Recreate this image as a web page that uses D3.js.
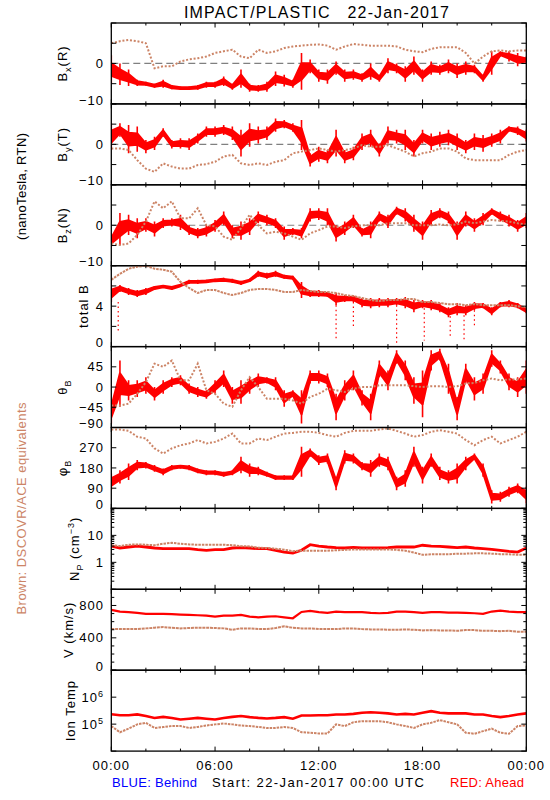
<!DOCTYPE html>
<html><head><meta charset="utf-8">
<script src="https://cdn.jsdelivr.net/npm/d3@7"></script>
<style>
body{margin:0;background:#fff}
svg{display:block}
text{font-family:"Liberation Sans",Arial,sans-serif;font-size:13px;letter-spacing:1px;fill:#000}
</style></head><body>
<svg id="c" width="550" height="800"></svg>
<script>
// ---------- data (30-minute steps) ----------
const hours=[0,0.5,1,1.5,2,2.5,3,3.5,4,4.5,5,5.5,6,6.5,7,7.5,8,8.5,9,9.5,10,10.5,11,11.5,12,12.5,13,13.5,14,14.5,15,15.5,16,16.5,17,17.5,18,18.5,19,19.5,20,20.5,21,21.5,22,22.5,23,23.5,24];
const hourTicks=[0,2,4,6,8,10,12,14,16,18,20,22,24];
const hourLabels=["00:00","06:00","12:00","18:00","00:00"];

// Bx (nT)
const bxRedHi=[2,0,-1.5,-4,-4.5,-5,-4,-5.3,-5.7,-5.7,-5.3,-4.5,-4.5,-3.2,-5,-1.5,-5,-5.3,-4.5,-2,-2.8,-4,2.6,1,-1.5,-1.5,0.5,-1.5,-1.5,-2.4,0,-2.8,1.3,0,-0.7,1.7,-1.5,0.5,-0.3,1,0,0.5,-0.3,-2.8,3,3,3,2.6,1.7];
const bxRedLo=[-5,-5.3,-5.6,-5.6,-5.5,-6,-6,-6.4,-6.5,-6.5,-6.5,-6,-6,-5.6,-6.5,-6,-7,-7,-7,-5.6,-5.7,-6,-6.5,-2.4,-4.5,-5,-2.8,-4.5,-4,-4.5,-4,-4.5,-2.4,-2.4,-4.5,-2.8,-4.5,-2.8,-2.8,-2.4,-3.6,-2.8,-2.4,-4.5,-2.8,1.7,0.5,-0.7,0];
const bxBrown=[5,5.5,5.8,5.5,5,-1.2,-0.7,-0.7,0.5,1,1.3,1.7,2.6,3,3.4,1.7,1.3,3.4,2.6,3,3.8,4.2,4.4,4.6,4.7,4.4,3.4,4.2,4.8,4.6,4.4,4.4,4.4,4.2,3.4,3,2.8,3.6,4,4,4,2.6,0,1.7,3,3.2,3,3.2,3.2];
// By (nT)
const byRedHi=[5.2,5.2,4.8,4.4,1.1,1.9,4,1.1,1.5,1.5,2.7,4.4,4.4,4.8,4.4,3.6,5.2,4.4,4.4,6.4,6,5.2,6,-2.2,-0.6,-1.4,3.6,-1.4,-0.6,2.7,3.6,0.2,4.4,3.6,3.6,1.1,3.6,2.7,3.1,3.6,2.7,1.1,2.7,2.3,2.7,3.6,4.5,4.4,3.6];
const byRedLo=[-1.4,1.9,-2.2,-1.8,-2.2,-1.4,1.9,-1,-1,-1.4,0.2,1.9,1.9,2.3,1.1,-3,-0.6,0.2,1.1,3.1,4,3.1,-1.4,-5.5,-4.3,-4.7,-3,-4.7,-3.9,-1.4,-0.6,-3,0.2,0.2,-1.4,-3,0.2,-1.4,-0.6,-0.2,-1.4,-2.2,-1.4,-1.8,-0.6,0.2,3.1,2.3,0.7];
const byBrown=[-1,-1,-1.4,-3.9,-6,-6.8,-4.7,-5.5,-6,-6,-5.1,-4.9,-4.3,-3,-2.6,-4.7,-5.1,-4.7,-5.1,-4.3,-3.9,-2.2,-1.8,-1.4,-1,-1.4,-1.8,-1.4,-1,-0.2,-0.6,-0.6,-0.2,-1,-1.8,-3,-2.2,-1.8,-1,-1,-1.8,-3.5,-3.9,-3.9,-3.9,-3.9,-2.6,-1.8,-1.4];
// Bz (nT)
const bzRedHi=[-2.4,3,2.6,1.7,1.7,0.9,1.7,1.7,2.6,0,-0.7,0,1.3,3.4,0,0.9,1.7,3.4,2.6,1.7,-0.3,-0.7,-0.7,4.2,4.2,4.2,0,0.9,2.6,-0.7,0.9,3.4,2.6,4.6,4.2,2.6,0.9,3.8,4.2,3.4,0.9,3.4,1.7,3,4.2,3.4,2.6,1.3,3];
const bzRedLo=[-5.3,-4.9,-2.4,-3.2,-1.6,-2.8,-0.7,-0.3,-1.2,-2.4,-3.2,-2.8,-1.6,0,-3.2,-3.6,-2.4,0.5,0,-0.7,-3.6,-2.4,-3.2,0.9,1.3,0,-4,-2.4,-0.7,-2.8,-3.2,0.9,-0.7,2.6,0.9,-1.6,-3.6,0,1.7,0.5,-3.6,-0.3,-1.6,0,2.6,0.9,-0.3,-1.6,-0.7];
const bzBrown=[-4.5,-4.9,-4.5,-2.4,0.9,5.9,4.2,5.9,1.7,1.7,4.2,0,-0.3,-2.8,-3.6,-0.7,2.6,0,-2,-1.6,-2,-2.8,-3.6,-2,-1.2,-0.3,-0.3,-0.7,-0.3,0,0,0,0.5,0.5,0.5,0,0,0,0.2,0,0.2,0.9,0.5,0.9,1.3,1.1,0.9,0.5,0.2];
// total B (nT)
const btRedHi=[6.1,6.1,5.8,5.6,5.8,6,6.1,6,6.2,6.6,6.6,6.6,6.7,6.8,6.7,6.5,6.7,7.5,7.3,7.5,7.1,7,6.4,5.6,5.6,5.4,5.3,5.1,5.1,4.8,4.8,4.8,4.8,4.8,4.9,4.6,4.6,4.6,4.3,3.9,4.3,4.1,4.4,4.3,3.9,4.4,4.6,4.3,3.8];
const btRedLo=[4.4,5.4,5.1,4.9,5.1,5.6,5.8,5.6,5.9,6.2,6.2,6.3,6.4,6.4,6.3,6.1,6.4,6.9,6.7,6.9,6.7,6.6,4.8,4.9,4.9,4.9,4.1,4.4,4.4,3.9,3.8,3.9,3.9,4.1,3.8,3.4,3.8,3.6,3.4,2.9,3.1,3.1,3.6,3.8,3.1,3.9,3.9,3.8,3.3];
const btBrown=[6.6,7.2,7.7,7.9,8,7.7,7.6,7.4,6.4,5.8,5.3,5.6,5.6,5.3,5.1,5.3,5.6,5.7,5.7,5.6,5.4,5.4,5.6,5.5,5.4,5.4,5.3,5.1,5,4.8,4.6,4.5,4.6,4.6,4.7,4.7,4.4,4.4,4.3,4.2,4.2,4.1,4.2,4.1,4.1,4.1,4.1,4,3.9];
// isolated red drop-outs in total B: [hour, from, to]
const btRedDips=[[0.4,4.4,1.5],[13,4.1,0.8],[14,4.4,2.0],[16.5,4.1,0.1],[18.1,3.8,0.6],[19.6,3,0.8],[20.4,3.1,0.5],[21,3.6,1.9]];
// theta B (deg)
const thRedHi=[-30,59,15,15,22,0,15,22,26,8,0,-7,15,37,0,15,22,30,22,22,-7,-7,-7,37,37,30,-15,15,37,-7,-15,59,37,82,59,22,37,82,85,52,-22,52,22,30,82,59,30,22,59];
const thRedLo=[-81,-44,-30,-22,-15,-30,-15,0,4,-15,-22,-26,-15,0,-37,-37,-15,0,8,-7,-44,-22,-81,8,8,0,-74,-30,-7,-41,-74,22,-7,52,15,-37,-67,37,59,-15,-74,8,-30,-15,45,30,-7,-22,-15];
const thBrown=[-41,-41,-37,-15,11,52,45,59,15,15,52,-7,-15,-37,-44,-7,22,0,-26,-26,-26,-30,-37,-22,-15,-4,-7,-11,-4,0,0,4,4,4,4,2,0,2,2,0,2,8,9,15,19,15,17,17,19];
// phi B (deg)
const phRedHi=[155,170,200,215,207,193,178,193,193,193,178,170,170,163,170,230,200,185,163,148,148,148,274,267,237,244,141,259,244,207,215,244,230,141,170,274,185,244,185,170,200,230,244,200,81,74,96,111,96];
const phRedLo=[81,111,126,170,178,163,148,170,178,170,156,148,148,141,148,156,141,148,141,126,126,126,141,230,193,200,81,200,200,170,141,185,170,81,96,185,111,185,126,111,111,170,215,141,22,30,52,67,22];
const phBrown=[351,351,345,319,311,267,244,267,281,289,304,289,296,311,333,289,289,311,304,319,333,336,341,341,336,326,319,336,345,345,345,351,356,345,333,319,326,341,348,341,333,304,281,304,319,289,304,319,341];
// proton density (cm^-3)
const npRed=[4,3.4,3.7,4,3.7,3.4,3.2,3.2,3.2,3.2,2.95,2.8,2.95,2.95,3.4,3.5,3.4,3.2,3.2,2.8,2.4,2.2,2.8,4.5,4,3.7,3.5,3.4,3.6,3.4,3.4,3.4,3.5,3.7,3.7,3.7,4.3,4,3.9,3.7,3.5,3.7,3.4,3.2,3,2.8,2.55,2.4,3.4];
const npBrown=[4.3,4,4.5,4.6,4.5,4.3,4.9,5.3,4.9,4.6,4.5,4.5,4.5,4.5,4.3,4,3.9,3.5,3.4,3.2,2.95,2.6,2.7,2.7,2.7,2.7,2.8,2.9,3,3,3,3,3,2.9,2.7,2.3,1.9,2,2,2,2.1,2.1,2.15,2.15,2.1,2,2,1.9,1.9];
// speed (km/s)
const vRed=[746,725,717,708,696,696,696,692,688,683,679,675,662,675,675,683,662,654,662,667,654,642,720,733,717,708,725,717,717,717,708,704,708,725,725,717,708,717,717,712,712,708,704,696,725,737,725,717,717];
const vBrown=[508,508,508,508,517,525,533,525,517,521,525,525,521,517,500,517,517,508,508,521,542,525,517,517,508,508,508,517,517,508,504,504,500,500,504,500,492,496,492,492,487,496,496,487,487,483,487,475,475];
// ion temperature (K)
const tRed=[234000,214000,214000,229000,200000,170000,186000,170000,148000,158000,170000,158000,148000,170000,186000,200000,182000,170000,162000,170000,182000,158000,209000,209000,214000,214000,229000,229000,240000,263000,275000,263000,251000,229000,240000,229000,263000,302000,263000,251000,251000,251000,229000,229000,200000,182000,200000,229000,251000];
const tBrown=[85000,50000,68000,98000,112000,72000,78000,85000,85000,72000,79000,89000,98000,105000,98000,89000,85000,79000,72000,72000,78000,72000,50000,48000,45000,45000,98000,85000,117000,129000,129000,129000,117000,98000,85000,72000,98000,112000,141000,117000,98000,48000,44000,55000,68000,48000,44000,85000,89000];

// tick values / labels
const fieldTicks=[-10,-5,0,5,10], fieldLabels=[0,-10];
const btTicks=[0,2,4,6,8], btLabels=[0,4];
const thTicks=[-90,-45,0,45,90], thLabels=[45,0,-45,-90];
const phTicks=[0,90,180,270,360], phLabels=[270,180,90,0];
const npTicks=[0.1,1,10,100], npLabels=[10,1];
const vTicks=[0,400,800], vMinor=[100,200,300,500,600,700,900,1000], vLabels=[800,400,0];
const tTicks=[1e4,1e5,1e6,1e7], tLabels=[[1e6,"6"],[1e5,"5"]];

// ---------- layout ----------
const X0=111.3, X1=526.3, TOP=23, PH=80.9;
const RED="#ff0000", BROWN="#cc8466";
const svg=d3.select("#c");
const x=d3.scaleLinear().domain([0,24]).range([X0,X1]);
const minus=v=>String(v).replace("-","\u2212");

const panels=[
 {title:[["B"],["x","sub"],["(R)"]],tx:67,domain:[-10,10],ticks:fieldTicks,labels:fieldLabels,zero:true,lo:bxRedLo,hi:bxRedHi,brown:bxBrown,bdash:"2 1.8"},
 {title:[["B"],["y","sub"],["(T)"]],tx:67,domain:[-10,10],ticks:fieldTicks,labels:fieldLabels,zero:true,lo:byRedLo,hi:byRedHi,brown:byBrown,bdash:"2 1.8"},
 {title:[["B"],["z","sub"],["(N)"]],tx:67,domain:[-10,10],ticks:fieldTicks,labels:fieldLabels,zero:true,lo:bzRedLo,hi:bzRedHi,brown:bzBrown,bdash:"2 1.8"},
 {title:[["total B"]],tx:88,domain:[0,8],ticks:btTicks,labels:btLabels,lo:btRedLo,hi:btRedHi,brown:btBrown,bdash:"2.5 1",dips:btRedDips},
 {title:[["\u03B8"],["B","sub"]],tx:67,domain:[-90,90],ticks:thTicks,labels:thLabels,lo:thRedLo,hi:thRedHi,brown:thBrown,bdash:"2 1.8"},
 {title:[["\u03C6"],["B","sub"]],tx:67,domain:[0,360],ticks:phTicks,labels:phLabels,lo:phRedLo,hi:phRedHi,brown:phBrown,bdash:"2 1.8"},
 {title:[["N"],["P","sub"],[" (cm"],["\u22123","sup"],[")"]],tx:79,log:true,domain:[0.1,100],ticks:npTicks,labels:npLabels,red:npRed,brown:npBrown,bdash:"2.5 1",minorLog:true,rw:2.8},
 {title:[["V (km/s)"]],tx:73,domain:[0,1000],ticks:vTicks,minor:vMinor,labels:vLabels,red:vRed,brown:vBrown,bdash:"3 0.8",rw:2.2},
 {title:[["Ion Temp"]],tx:75,log:true,domain:[1e4,1e7],ticks:tTicks,labels:tLabels,pow:true,red:tRed,brown:tBrown,bdash:"2.5 1",rw:2.6}
];

const defs=svg.append("defs");

function rotTitle(parts,xp,cy,opts={}){
  const t=svg.append("text").attr("transform",`translate(${xp},${cy}) rotate(-90)`).attr("text-anchor","middle");
  if(opts.fill) t.style("fill",opts.fill);
  if(opts.len) t.attr("textLength",opts.len).attr("lengthAdjust","spacing");
  let shift=0;
  parts.forEach(p=>{
    const s=t.append("tspan").text(p[0]);
    let target=0;
    if(p[1]==="sub"){target=3.5;s.style("font-size","9px");}
    if(p[1]==="sup"){target=-5;s.style("font-size","9px");}
    if(target!==shift){s.attr("dy",target-shift);shift=target;}
  });
}

panels.forEach((p,i)=>{
  const top=TOP+i*PH, bot=top+PH;
  const y=(p.log?d3.scaleLog():d3.scaleLinear()).domain(p.domain).range([bot,top]);
  const cid="clip"+i;
  defs.append("clipPath").attr("id",cid).append("rect").attr("x",X0).attr("y",top).attr("width",X1-X0).attr("height",PH);
  const dg=svg.append("g").attr("clip-path",`url(#${cid})`);
  if(p.zero){
    dg.append("line").attr("x1",X0).attr("x2",X1).attr("y1",y(0)).attr("y2",y(0))
      .attr("stroke","#808080").attr("stroke-width",1.2).attr("stroke-dasharray","7 4");
  }
  if(p.lo){
    const rows=hours.map((t,k)=>({t,lo:p.lo[k],hi:p.hi[k]}));
    // dense core of the scatter
    const core=d3.area().x(d=>x(d.t))
      .y0(d=>y((d.lo+d.hi)/2-(d.hi-d.lo)*0.22))
      .y1(d=>y((d.lo+d.hi)/2+(d.hi-d.lo)*0.22));
    dg.append("path").attr("d",core(rows)).attr("fill",RED).attr("stroke",RED)
      .attr("stroke-width",2.2).attr("stroke-linejoin","round");
    // full spread of each sample as a vertical streak
    dg.selectAll("line.sp").data(rows).join("line").attr("class","sp")
      .attr("x1",d=>x(d.t)).attr("x2",d=>x(d.t)).attr("y1",d=>y(d.lo)).attr("y2",d=>y(d.hi))
      .attr("stroke",RED).attr("stroke-width",1.6);
    if(p.dips){
      dg.selectAll("line.dp").data(p.dips).join("line").attr("class","dp")
        .attr("x1",d=>x(d[0])).attr("x2",d=>x(d[0])).attr("y1",d=>y(d[1])).attr("y2",d=>y(d[2]))
        .attr("stroke",RED).attr("stroke-width",1.2).attr("stroke-dasharray","1.5 3");
    }
  } else {
    const rows=hours.map((t,k)=>({t,v:p.red[k]}));
    dg.append("path").attr("d",d3.line().x(d=>x(d.t)).y(d=>y(d.v))(rows))
      .attr("fill","none").attr("stroke",RED).attr("stroke-width",p.rw);
  }
  const brows=hours.map((t,k)=>({t,v:p.brown[k]}));
  dg.append("path").attr("d",d3.line().x(d=>x(d.t)).y(d=>y(d.v))(brows))
    .attr("fill","none").attr("stroke",BROWN).attr("stroke-width",2).attr("stroke-dasharray",p.bdash);

  // frame
  svg.append("rect").attr("x",X0).attr("y",top).attr("width",X1-X0).attr("height",PH)
    .attr("fill","none").attr("stroke","#000").attr("stroke-width",1.3);
  // x ticks (top and bottom, inward)
  hourTicks.forEach(h=>{
    const L=(h%6===0)?4.5:2.5, xx=x(h);
    svg.append("line").attr("x1",xx).attr("x2",xx).attr("y1",top).attr("y2",top+L).attr("stroke","#000").attr("stroke-width",1);
    svg.append("line").attr("x1",xx).attr("x2",xx).attr("y1",bot).attr("y2",bot-L).attr("stroke","#000").attr("stroke-width",1);
  });
  // y ticks
  const yt=(v,L)=>{
    const yy=y(v);
    svg.append("line").attr("x1",X0).attr("x2",X0+L).attr("y1",yy).attr("y2",yy).attr("stroke","#000").attr("stroke-width",1);
    svg.append("line").attr("x1",X1).attr("x2",X1-L).attr("y1",yy).attr("y2",yy).attr("stroke","#000").attr("stroke-width",1);
  };
  p.ticks.forEach(v=>yt(v,5));
  (p.minor||[]).forEach(v=>yt(v,3));
  if(p.minorLog){
    const [a,b]=p.domain;
    for(let d=a; d<b; d*=10) for(let k=2;k<=9;k++) yt(d*k,3);
  }
  // y labels
  p.labels.forEach(l=>{
    const v=Array.isArray(l)?l[0]:l;
    let yy=y(v)+4.6;
    if(Math.abs(y(v)-bot)<0.5) yy-=4;
    const t=svg.append("text").attr("x",104).attr("y",yy).attr("text-anchor","end");
    if(p.pow){
      t.append("tspan").text("10");
      t.append("tspan").text(l[1]).attr("dy",-5).style("font-size","9px");
    } else t.text(minus(v));
  });
  rotTitle(p.title,p.tx,(top+bot)/2);
});

// x axis labels
[0,6,12,18,24].forEach((h,k)=>{
  svg.append("text").attr("x",x(h)).attr("y",769.5).attr("text-anchor","middle").text(hourLabels[k]);
});

// title
svg.append("text").attr("x",184).attr("y",17.5).attr("textLength",266).attr("lengthAdjust","spacing")
  .style("font-size","16px").style("white-space","pre").text("IMPACT/PLASTIC   22-Jan-2017");

// side labels
rotTitle([["(nanoTesla, RTN)"]],26,186,{len:108});
rotTitle([["Brown: DSCOVR/ACE equivalents"]],26,508,{fill:BROWN,len:213});

// bottom legend
svg.append("text").attr("x",112).attr("y",787).attr("textLength",86).attr("lengthAdjust","spacing").style("fill","#0000ff").text("BLUE: Behind");
svg.append("text").attr("x",212).attr("y",787).attr("textLength",213).attr("lengthAdjust","spacing").text("Start: 22-Jan-2017 00:00 UTC");
svg.append("text").attr("x",450).attr("y",787).attr("textLength",75).attr("lengthAdjust","spacing").style("fill",RED).text("RED: Ahead");
</script></body></html>
